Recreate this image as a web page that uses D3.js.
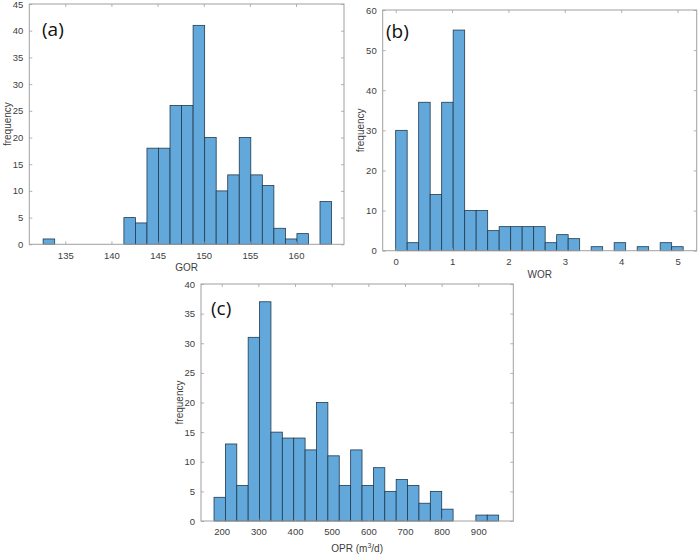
<!DOCTYPE html>
<html>
<head>
<meta charset="utf-8">
<script src="https://cdn.jsdelivr.net/npm/d3@7"></script>
<style>
  html, body { margin: 0; padding: 0; background: #fff; }
  svg { display: block; }
  .tick text { font-family: "Liberation Sans", Arial, sans-serif; font-size: 9.5px; fill: #404040; }
</style>
</head>
<body>
<svg id="chart" width="700" height="554"></svg>
<script>
// ---- data ----
const gorCounts = [1,0,0,0,0,0,0,5,4,18,18,26,26,41,20,10,13,20,13,11,3,1,2,0,8];
const gorBinStart = 132.6, gorBinWidth = 1.25;
const gorXTicks = [135,140,145,150,155,160];
const gorYTicks = [0,5,10,15,20,25,30,35,40,45];

const worCounts = [30,2,37,14,37,55,10,10,5,6,6,6,6,2,4,3,0,1,0,2,0,1,0,2,1];
const worBinStart = 0, worBinWidth = 0.204;
const worXTicks = [0,1,2,3,4,5];
const worYTicks = [0,10,20,30,40,50,60];

const oprCounts = [4,13,6,31,37,15,14,14,12,20,11,6,12,6,9,5,7,6,3,5,2,0,0,1,1];
const oprBinStart = 179, oprBinWidth = 31.06;
const oprXTicks = [200,300,400,500,600,700,800,900];
const oprYTicks = [0,5,10,15,20,25,30,35,40];

const panelLabels = ["(a)", "(b)", "(c)"];
const xLabels = ["GOR", "WOR", "OPR"];

// ---- layout ----
const panels = [
  { counts: gorCounts, start: gorBinStart, width: gorBinWidth, xTicks: gorXTicks, yTicks: gorYTicks,
    xDom: [131.1, 165.2], yDom: [0, 45], box: [29.3, 4, 344, 244.3], label: panelLabels[0], xLabel: xLabels[0],
    labPos: [42, 36] },
  { counts: worCounts, start: worBinStart, width: worBinWidth, xTicks: worXTicks, yTicks: worYTicks,
    xDom: [-0.23, 5.34], yDom: [0, 60], box: [382.7, 10, 696.7, 250.7], label: panelLabels[1], xLabel: xLabels[1],
    labPos: [386, 38] },
  { counts: oprCounts, start: oprBinStart, width: oprBinWidth, xTicks: oprXTicks, yTicks: oprYTicks,
    xDom: [143.5, 995.5], yDom: [0, 40], box: [201, 284, 513.3, 521], label: panelLabels[2], xLabel: xLabels[2],
    labPos: [211, 315], unit: true }
];

const svg = d3.select("#chart");
const boxColor = "#a0a0a0";

panels.forEach(p => {
  const [x0, y0, x1, y1] = p.box;
  const x = d3.scaleLinear().domain(p.xDom).range([x0, x1]);
  const y = d3.scaleLinear().domain(p.yDom).range([y1, y0]);
  const g = svg.append("g");

  const bins = p.counts.map((c, i) => ({ a: p.start + i * p.width, b: p.start + (i + 1) * p.width, c }));

  g.selectAll("rect.bar").data(bins.filter(d => d.c > 0)).join("rect")
    .attr("class", "bar")
    .attr("x", d => x(d.a))
    .attr("width", d => x(d.b) - x(d.a))
    .attr("y", d => y(d.c))
    .attr("height", d => y(0) - y(d.c))
    .attr("fill", "#62a8da")
    .attr("stroke", "#213a4f")
    .attr("stroke-width", 0.8);

  // axes (inward ticks on all sides)
  const tick = 3;
  const bottom = g.append("g").attr("transform", `translate(0,${y1})`)
    .call(d3.axisBottom(x).tickValues(p.xTicks).tickSize(-tick).tickPadding(7.5).tickFormat(d3.format("d")));
  const top = g.append("g").attr("transform", `translate(0,${y0})`)
    .call(d3.axisTop(x).tickValues(p.xTicks).tickSize(-tick).tickFormat(""));
  const left = g.append("g").attr("transform", `translate(${x0},0)`)
    .call(d3.axisLeft(y).tickValues(p.yTicks).tickSize(-tick).tickPadding(6).tickFormat(d3.format("d")));
  const right = g.append("g").attr("transform", `translate(${x1},0)`)
    .call(d3.axisRight(y).tickValues(p.yTicks).tickSize(-tick).tickFormat(""));
  [bottom, top, left, right].forEach(a => {
    a.select(".domain").remove();
    a.selectAll(".tick line").attr("stroke", boxColor).attr("stroke-width", 0.8);
  });

  g.append("rect")
    .attr("x", x0).attr("y", y0).attr("width", x1 - x0).attr("height", y1 - y0)
    .attr("fill", "none").attr("stroke", boxColor).attr("stroke-width", 1);

  // axis labels
  const xl = g.append("text")
    .attr("x", (x0 + x1) / 2).attr("y", y1 + (p.unit ? 31 : 27))
    .attr("text-anchor", "middle")
    .attr("font-family", "Liberation Sans, Arial, sans-serif").attr("font-size", 10).attr("fill", "#404040")
    .text(p.xLabel);
  if (p.unit) {
    xl.append("tspan").text(" (m");
    xl.append("tspan").attr("font-size", 7).attr("dy", -4).text("3");
    xl.append("tspan").attr("dy", 4).text("/d)");
  }
  g.append("text")
    .attr("transform", `translate(${x0 - 22},${(y0 + y1) / 2}) rotate(-90)`)
    .attr("text-anchor", "middle").attr("dominant-baseline", "central")
    .attr("font-family", "Liberation Sans, Arial, sans-serif").attr("font-size", 10).attr("fill", "#404040")
    .text("frequency");

  // panel label
  g.append("text")
    .attr("x", p.labPos[0]).attr("y", p.labPos[1])
    .attr("font-family", "Open Sans, Lato, sans-serif").attr("font-size", 19).attr("fill", "#111")
    .text(p.label);
});
</script>
</body>
</html>
